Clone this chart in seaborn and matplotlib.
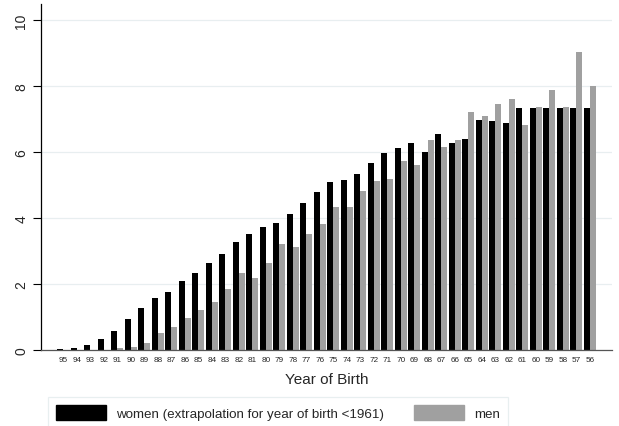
import matplotlib
matplotlib.use("Agg")
import matplotlib.pyplot as plt
import seaborn as sns
import pandas as pd
from matplotlib.patches import Patch

years = [str(y) for y in range(95, 55, -1)]
women = [0.02, 0.06, 0.15, 0.32, 0.58, 0.94, 1.27, 1.58, 1.75, 2.09,
         2.33, 2.65, 2.91, 3.26, 3.50, 3.73, 3.85, 4.12, 4.45, 4.78,
         5.08, 5.15, 5.34, 5.66, 5.98, 6.11, 6.27, 5.99, 6.54, 6.27,
         6.39, 6.96, 6.93, 6.87, 7.33, 7.33, 7.33, 7.33, 7.33, 7.33]
men = [0.0, 0.0, 0.01, 0.01, 0.06, 0.08, 0.21, 0.52, 0.69, 0.96,
       1.22, 1.44, 1.84, 2.33, 2.18, 2.65, 3.20, 3.13, 3.50, 3.81,
       4.32, 4.33, 4.81, 5.13, 5.19, 5.73, 5.60, 6.35, 6.15, 6.36,
       7.21, 7.08, 7.44, 7.59, 6.83, 7.37, 7.89, 7.35, 9.02, 7.99]
series = ["women (extrapolation for year of birth <1961)", "men"]
colors = ["#000000", "#a0a0a0"]

df = pd.DataFrame({
    "year": years * 2,
    "value": women + men,
    "group": [series[0]] * len(years) + [series[1]] * len(years),
})

sns.set_style("white")
plt.rcParams["font.family"] = ["Liberation Sans", "DejaVu Sans"]

fig = plt.figure(figsize=(6.19, 4.27), dpi=100)
ax = fig.add_axes([41 / 619, 1 - 351 / 427, (612 - 41) / 619, (351 - 5) / 427])

sns.barplot(data=df, x="year", y="value", hue="group", order=years,
            hue_order=series, palette=colors, width=0.89, gap=0,
            saturation=1, linewidth=0, ax=ax, legend=False)

ax.set_ylim(0, 10.48)
ax.set_xlim(-1.65, 40.64)
ax.set_yticks([0, 2, 4, 6, 8, 10])
ax.set_yticklabels(["0", "2", "4", "6", "8", "10"], rotation=90, va="center", fontsize=10)
ax.tick_params(axis="y", length=6, width=0.8, color="black", pad=3, left=True)
ax.tick_params(axis="x", length=0, labelsize=5.9, pad=4)
ax.yaxis.grid(True, color="#e8eef0", linewidth=0.9)
ax.set_axisbelow(True)
for s in ["top", "right"]:
    ax.spines[s].set_visible(False)
ax.spines["left"].set_color("black")
ax.spines["left"].set_linewidth(0.9)
ax.spines["bottom"].set_color("#555555")
ax.spines["bottom"].set_linewidth(0.9)
ax.set_ylabel("")
ax.set_xlabel("Year of Birth", fontsize=11, labelpad=7)

handles = [Patch(facecolor=c, edgecolor=c) for c in colors]
leg = fig.legend(handles, series, loc="upper left", bbox_to_anchor=(48 / 619, 1 - 398 / 427),
                 ncol=2, frameon=True, fontsize=9.6, handlelength=3.75, handleheight=1.35,
                 columnspacing=2.25, borderpad=0.62, borderaxespad=0, fancybox=False,
                 handletextpad=0.75)
leg.get_frame().set_edgecolor("#e3ebed")
leg.get_frame().set_linewidth(0.9)

fig.savefig("out.png", dpi=100, facecolor="white")
